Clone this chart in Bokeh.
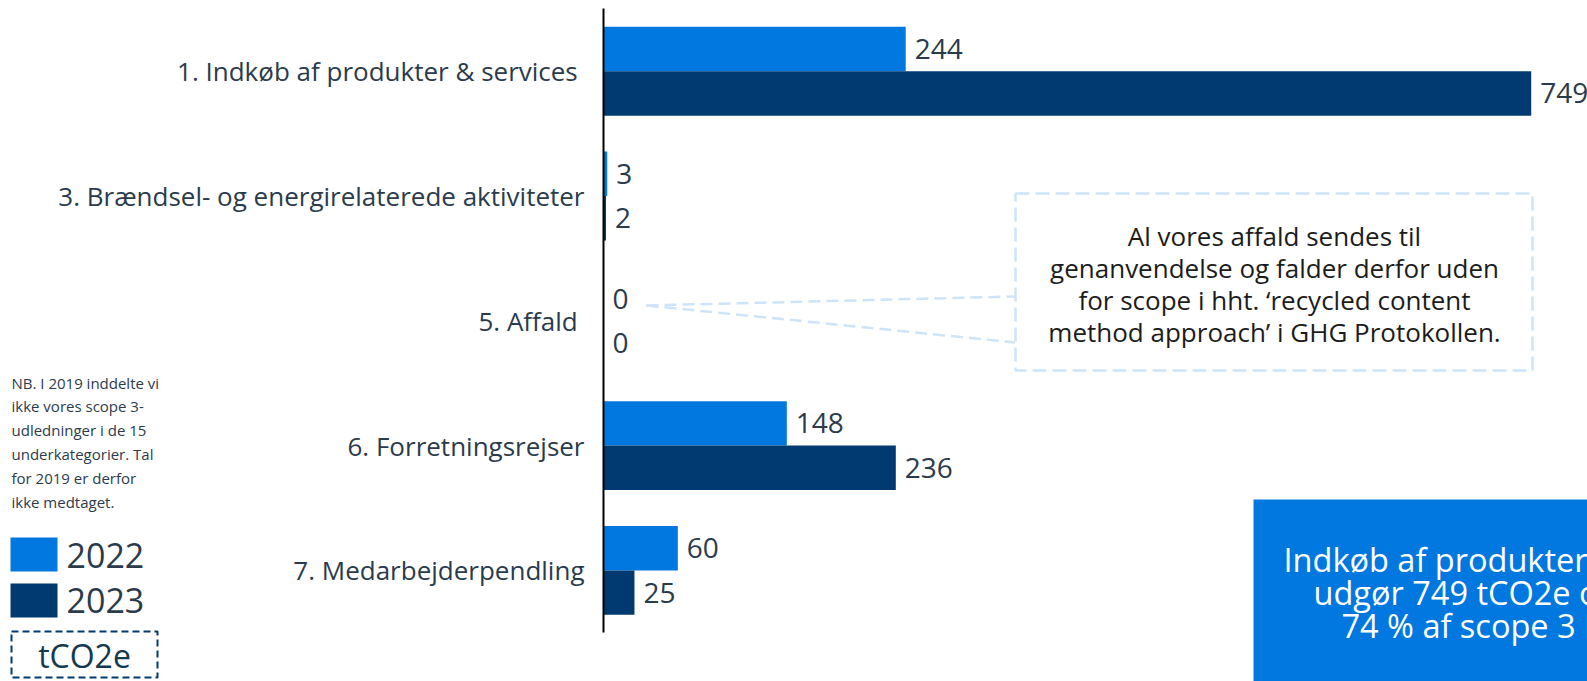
from bokeh.plotting import figure
from bokeh.models import ColumnDataSource, Range1d
from bokeh.transform import dodge
from bokeh.core.properties import value
from bokeh.embed import file_html
from bokeh.resources import INLINE

# ---------------- data ----------------
categories = [
    "1. Indkøb af produkter & services\u00a0",
    "3. Brændsel- og energirelaterede aktiviteter",
    "5. Affald\u00a0",
    "6. Forretningsrejser",
    "7. Medarbejderpendling",
]
values_2022 = [244, 3, 0, 148, 60]
values_2023 = [749, 2, 0, 236, 25]
years = ["2022", "2023"]
unit_label = "tCO2e"
note_lines = [
    "NB. I 2019 inddelte vi",
    "ikke vores scope 3-",
    "udledninger i de 15",
    "underkategorier. Tal",
    "for 2019 er derfor",
    "ikke medtaget.",
]
callout_lines = [
    "Al vores affald sendes til",
    "genanvendelse og falder derfor uden",
    "for scope i hht. \u2018recycled content",
    "method approach\u2019 i GHG Protokollen.",
]
highlight_lines = [
    "Indkøb af produkter & services",
    "udgør 749 tCO2e og dermed",
    "74 % af scope 3 I alt",
]

# ---------------- styles / layout ----------------
C2022 = "#0078DF"
C2023 = "#003A70"
TXT = "#2B3B4C"
FONT = value("Open Sans")
W, H = 1587, 681
OX, OY = 0, 0
AXIS_X = 603.0
PX_PER_UNIT = 1.2386
CAT0_Y = 70.7
CAT_STEP = 124.8
BAR_H = 0.356
OFF = BAR_H / 2


def X(px):
    return (px - AXIS_X) / PX_PER_UNIT


def Y(py):
    return -(py - CAT0_Y) / CAT_STEP


p = figure(
    width=W, height=H,
    x_range=Range1d(X(OX), X(OX + W)),
    y_range=Range1d(Y(OY + H), Y(OY)),
    output_backend="svg", toolbar_location=None,
    x_axis_location=None, y_axis_location=None,
    min_border=0, outline_line_color=None,
    background_fill_color="white", border_fill_color="white",
)
p.grid.visible = False

src = ColumnDataSource(dict(
    cat=categories,
    y=[-i for i in range(len(categories))],
    v2022=values_2022,
    v2023=values_2023,
    t2022=[str(v) for v in values_2022],
    t2023=[str(v) for v in values_2023],
))

# bars
p.hbar(y=dodge("y", OFF), left=0, right="v2022", height=BAR_H, source=src,
       fill_color=C2022, line_color=None)
p.hbar(y=dodge("y", -OFF), left=0, right="v2023", height=BAR_H, source=src,
       fill_color=C2023, line_color=None)

# value labels
for col, off in (("2022", OFF), ("2023", -OFF)):
    p.text(x="v" + col, y=dodge("y", off), text="t" + col, source=src,
           x_offset=9, text_baseline="middle", text_align="left",
           text_font=FONT, text_font_size="28px", text_color=TXT)

# category labels
p.text(x=0, y="y", text="cat", source=src, x_offset=-19,
       text_align="right", text_baseline="middle",
       text_font=FONT, text_font_size="26px", text_color=TXT)

# axis line
p.segment(x0=[0], x1=[0], y0=[Y(8)], y1=[Y(632)], line_color="black", line_width=2)

# callout connector lines
p.segment(x0=[X(646), X(646)], y0=[Y(305), Y(305)],
          x1=[X(1015), X(1015)], y1=[Y(296), Y(342)],
          line_color="#CDE4FA", line_width=2.5, line_dash="12 6")

# callout box
p.quad(left=[X(1015)], right=[X(1532)], top=[Y(193)], bottom=[Y(370)],
       fill_color="white", line_color="#CDE4FA", line_width=2.5, line_dash="14 6")
p.text(x=[X(1274)] * len(callout_lines),
       y=[Y(235 + 32.3 * i) for i in range(len(callout_lines))],
       text=callout_lines, text_align="center", text_baseline="middle",
       text_font=FONT, text_font_size="26px", text_color="#1C1C1C")

# highlight box (bottom right)
p.quad(left=[X(1253)], right=[X(1600)], top=[Y(499)], bottom=[Y(700)],
       fill_color=C2022, line_color=None)
p.text(x=[X(1283), X(1313), X(1341)],
       y=[Y(559 + 32.8 * i) for i in range(len(highlight_lines))],
       text=highlight_lines, text_align="left", text_baseline="middle",
       text_font=FONT, text_font_size="32.5px", text_color="white")

# note
p.text(x=[X(11)] * len(note_lines),
       y=[Y(382 + 23.8 * i) for i in range(len(note_lines))],
       text=note_lines, text_align="left", text_baseline="middle",
       text_font=FONT, text_font_size="15px", text_color=TXT)

# legend
p.quad(left=[X(10), X(10)], right=[X(57), X(57)],
       top=[Y(537), Y(583)], bottom=[Y(571), Y(617)],
       fill_color=[C2022, C2023], line_color=None)
p.text(x=[X(66), X(66)], y=[Y(555), Y(600)], text=years,
       text_align="left", text_baseline="middle",
       text_font=FONT, text_font_size="34px", text_color=TXT)

# unit box
p.quad(left=[X(11)], right=[X(157)], top=[Y(631)], bottom=[Y(677)],
       fill_color=None, line_color=C2023, line_width=2, line_dash="7 4")
p.text(x=[X(84)], y=[Y(655)], text=[unit_label],
       text_align="center", text_baseline="middle",
       text_font=FONT, text_font_size="32px", text_color="#133A50")

open("out.html", "w").write(file_html(p, INLINE))
